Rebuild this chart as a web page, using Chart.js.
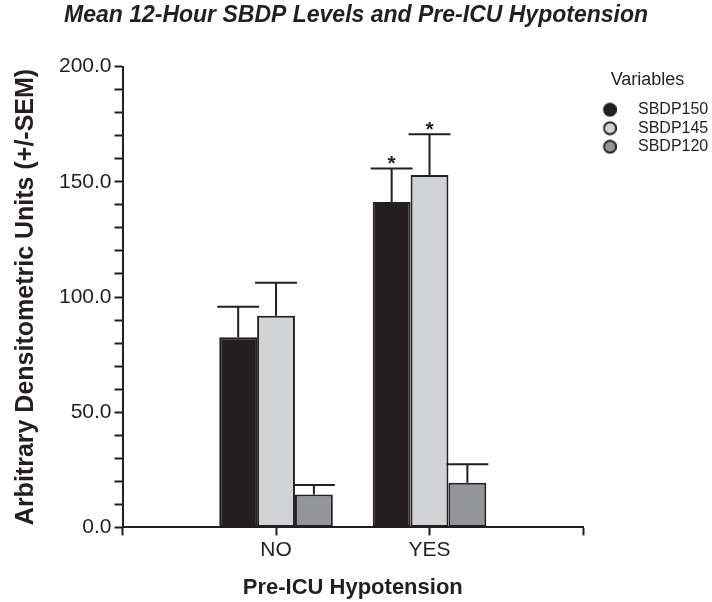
<!DOCTYPE html>
<html lang="en">
<head>
<meta charset="UTF-8">
<title>Mean 12-Hour SBDP Levels and Pre-ICU Hypotension</title>
<script src="https://cdn.jsdelivr.net/npm/chart.js"></script>
<style>
  body { margin: 0; background: #fff; }
  #wrap { position: relative; width: 712px; height: 602px; }
</style>
</head>
<body>
<div id="wrap"><canvas id="grafico"></canvas></div>
<script>
// x categories
const categorias = ['NO', 'YES'];
const nomes = ['SBDP150', 'SBDP145', 'SBDP120'];
// means
const sbdp150 = [82.5, 141.2];
const sbdp145 = [91.9, 153.0];
const sbdp120 = [14.3, 19.4];
// SEM (upper bar only)
const sem150 = [13.3, 14.6];
const sem145 = [14.3, 17.6];
const sem120 = [4.1, 8.0];
// significance marks
const sig150 = ['', '*'];
const sig145 = ['', '*'];
const sig120 = ['', ''];
// labelled y ticks
const yTicks = [0, 50, 100, 150, 200];

const tinta = '#231f20';
const cores = ['#231f20', '#d1d3d4', '#939598'];

Chart.defaults.font.family = '"Liberation Sans", Arial, sans-serif';
Chart.defaults.color = tinta;

// empty slot on each side so the axis runs past the groups
const pad = a => [null, ...a, null];

// legend dot, drawn a bit off-centre so the text sits further right
function bolinha(cor) {
  const c = document.createElement('canvas');
  c.width = 18;
  c.height = 15;
  const g = c.getContext('2d');
  g.beginPath();
  g.arc(11.25, 7.5, 6, 0, Math.PI * 2);
  g.fillStyle = cor;
  g.fill();
  g.lineWidth = 1.8;
  g.strokeStyle = tinta;
  g.stroke();
  return c;
}

const barrasErro = {
  id: 'barrasErro',
  afterDatasetsDraw(chart) {
    const ctx = chart.ctx;
    const y = chart.scales.y;
    chart.data.datasets.forEach((ds, i) => {
      const meta = chart.getDatasetMeta(i);
      meta.data.forEach((bar, j) => {
        const v = ds.data[j];
        if (v == null) return;
        const topo = y.getPixelForValue(v + ds.sem[j]);
        const meia = bar.width / 2 + 2;
        ctx.save();
        ctx.strokeStyle = tinta;
        ctx.lineWidth = 2;
        ctx.beginPath();
        ctx.moveTo(bar.x, bar.y);
        ctx.lineTo(bar.x, topo);
        ctx.moveTo(bar.x - meia, topo);
        ctx.lineTo(bar.x + meia, topo);
        ctx.stroke();
        if (ds.sig[j]) {
          ctx.fillStyle = tinta;
          ctx.font = 'bold 21px "Liberation Sans", Arial, sans-serif';
          ctx.textAlign = 'center';
          ctx.textBaseline = 'alphabetic';
          ctx.fillText(ds.sig[j], bar.x, topo + 2);
        }
        ctx.restore();
      });
    });
  }
};

const medias = [sbdp150, sbdp145, sbdp120];
const sems = [sem150, sem145, sem120];
const sigs = [sig150, sig145, sig120];

const dados = {
  labels: pad(categorias).map(c => c || ''),
  datasets: nomes.map((n, i) => ({
    label: n,
    data: pad(medias[i]),
    sem: pad(sems[i]),
    sig: pad(sigs[i]),
    backgroundColor: cores[i],
    borderColor: tinta,
    borderWidth: 2,
    borderSkipped: false,
    barPercentage: 1,
    categoryPercentage: 0.74
  }))
};

const eixo = {
  offset: false,
  drawOnChartArea: false,
  drawTicks: true,
  tickLength: 8,
  tickWidth: 2,
  tickColor: tinta
};

new Chart(document.getElementById('grafico'), {
  type: 'bar',
  data: dados,
  options: {
    responsive: true,
    maintainAspectRatio: false,
    animation: false,
    layout: { padding: 0 },
    scales: {
      x: {
        offset: false,
        grid: eixo,
        border: { display: true, color: tinta, width: 2 },
        ticks: { font: { size: 21 }, color: tinta, padding: 2, autoSkip: false, maxRotation: 0 },
        title: {
          display: true,
          text: 'Pre-ICU Hypotension',
          font: { size: 22, weight: 'bold' },
          color: tinta,
          padding: { top: 10, bottom: 1 }
        }
      },
      y: {
        min: 0,
        max: 200,
        grid: eixo,
        border: { display: true, color: tinta, width: 2 },
        ticks: {
          stepSize: 10,
          autoSkip: false,
          font: { size: 21 },
          color: tinta,
          padding: 3,
          callback: v => yTicks.includes(v) ? v.toFixed(1) : ''
        },
        title: {
          display: true,
          text: 'Arbitrary Densitometric Units (+/-SEM)',
          font: { size: 25, weight: 'bold' },
          color: tinta,
          padding: { top: 11, bottom: 15 }
        }
      }
    },
    plugins: {
      title: {
        display: true,
        text: 'Mean 12-Hour SBDP Levels and Pre-ICU Hypotension',
        font: { size: 23, weight: 'bold', style: 'italic' },
        color: tinta,
        padding: { top: 2, bottom: 37 }
      },
      legend: {
        position: 'right',
        align: 'start',
        fullSize: false,
        maxWidth: 129,
        title: {
          display: true,
          text: 'Variables',
          font: { size: 18 },
          color: tinta,
          padding: { top: 4, bottom: 7 }
        },
        labels: {
          usePointStyle: true,
          pointStyleWidth: 44.5,
          padding: 2.5,
          font: { size: 16 },
          color: tinta,
          generateLabels(chart) {
            const itens = Chart.defaults.plugins.legend.labels.generateLabels(chart);
            itens.forEach((it, i) => { it.pointStyle = bolinha(cores[i]); });
            return itens;
          }
        }
      },
      tooltip: { enabled: false }
    }
  },
  plugins: [barrasErro]
});
</script>
</body>
</html>
